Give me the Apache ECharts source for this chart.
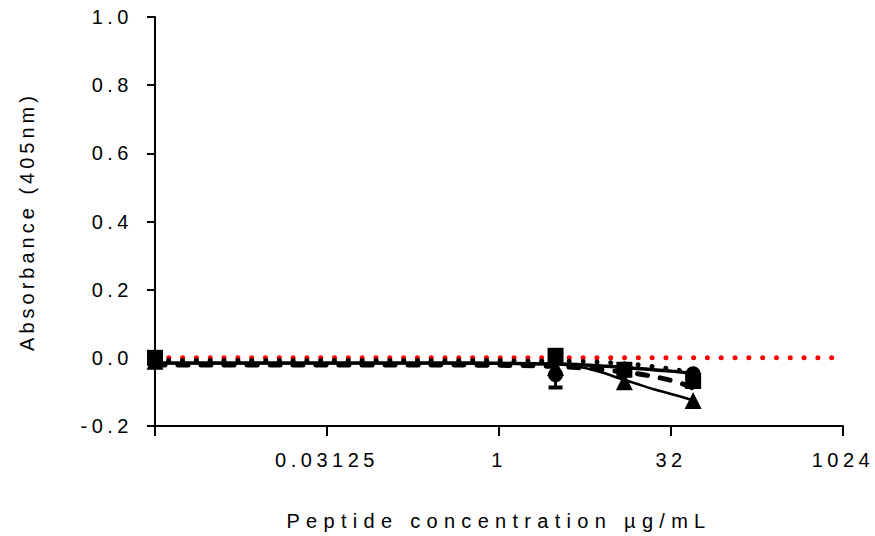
<!DOCTYPE html>
<html><head><meta charset="utf-8">
<script src="https://cdn.jsdelivr.net/npm/echarts@6/dist/echarts.min.js"></script>
<style>
html,body{margin:0;padding:0;background:#fff;}
#c{width:875px;height:536px;}
#c text{letter-spacing:4.5px;}
</style></head><body><div id="c"></div>
<script>
// ---- data ----
const markerConc = [0.0009765625, 3.125, 12.5, 50];
const circleVals = [-0.010, -0.050, -0.038, -0.047];
const squareVals = [0.000, 0.006, -0.035, -0.068];
const triangleVals = [-0.010, -0.028, -0.070, -0.125];
const circleErrLow = [null, -0.087, null, null];
const circleErrHigh = [null, -0.013, null, null];

const fitConc = [0.0009765625, 0.015625, 0.25, 1, 2, 2.83, 4, 5.66, 8, 11.3, 16, 22.6, 32, 45, 50];
const fitDotted = [-0.008, -0.008, -0.008, -0.008, -0.009, -0.009, -0.010, -0.011, -0.013, -0.016, -0.020, -0.026, -0.033, -0.041, -0.044];
const fitSolid = [-0.015, -0.015, -0.015, -0.016, -0.017, -0.018, -0.019, -0.021, -0.024, -0.027, -0.031, -0.035, -0.039, -0.044, -0.046];
const fitDashed = [-0.021, -0.021, -0.021, -0.022, -0.023, -0.025, -0.027, -0.030, -0.034, -0.040, -0.046, -0.055, -0.066, -0.082, -0.090];
const fitThin = [-0.016, -0.016, -0.016, -0.017, -0.018, -0.019, -0.021, -0.030, -0.043, -0.060, -0.076, -0.092, -0.106, -0.120, -0.125];

const baselineConc = [0.0009765625, 1024];
const baselineVals = [0, 0];

const xTickValues = [0.03125, 1, 32, 1024];
const xTickLabels = ['0.03125', '1', '32', '1024'];

// ---- build ----
const pairs = (xs, ys) => xs.map((x, i) => [x, ys[i]]);
const errData = markerConc.map((x, i) => [x, circleErrLow[i], circleErrHigh[i]]).filter(d => d[1] !== null);

const FONT = '"Liberation Sans", Arial, sans-serif';
const XNAME = 'Peptide concentration µg/mL';
const chart = echarts.init(document.getElementById('c'), null, {renderer: 'svg'});
chart.setOption({
  animation: false,
  backgroundColor: '#fff',
  grid: {left: 155, right: 32, top: 17, bottom: 108},
  xAxis: {
    type: 'log', logBase: 2, min: 0.0009765625, max: 1024, interval: 5,
    name: XNAME, nameLocation: 'middle', nameGap: 85,
    nameTextStyle: {fontFamily: FONT, fontSize: 20, color: '#000'},
    axisLine: {onZero: false, lineStyle: {color: '#000', width: 2}},
    axisTick: {length: 10, lineStyle: {color: '#000', width: 2}},
    axisLabel: {
      margin: 24, fontFamily: FONT, fontSize: 20, color: '#000',
      formatter: v => {
        for (let i = 0; i < xTickValues.length; i++) {
          if (Math.abs(Math.log2(v) - Math.log2(xTickValues[i])) < 1e-6) return xTickLabels[i];
        }
        return '';
      }
    },
    splitLine: {show: false}
  },
  yAxis: {
    type: 'value', min: -0.2, max: 1.0, interval: 0.2,
    name: 'Absorbance (405nm)', nameLocation: 'middle', nameGap: 118,
    nameTextStyle: {fontFamily: FONT, fontSize: 20, color: '#000'},
    axisLine: {show: true, onZero: false, lineStyle: {color: '#000', width: 2}},
    axisTick: {show: true, length: 8, lineStyle: {color: '#000', width: 2}},
    axisLabel: {margin: 22, fontFamily: FONT, fontSize: 20, color: '#000', formatter: v => v.toFixed(1)},
    splitLine: {show: false}
  },
  series: [
    {type: 'line', data: pairs(baselineConc, baselineVals), symbol: 'none', z: 1,
     lineStyle: {color: '#ff0000', width: 5, type: [0.01, 13.8], cap: 'round'}},
    {type: 'line', data: pairs(fitConc, fitDotted), symbol: 'none', smooth: 0.3, z: 2,
     lineStyle: {color: '#000', width: 5, type: [0.01, 13.8], cap: 'round'}},
    {type: 'line', data: pairs(fitConc, fitSolid), symbol: 'none', smooth: 0.3, z: 2,
     lineStyle: {color: '#000', width: 3.5, type: 'solid'}},
    {type: 'line', data: pairs(fitConc, fitDashed), symbol: 'none', smooth: 0.3, z: 2,
     lineStyle: {color: '#000', width: 5, type: [10, 13], cap: 'round'}},
    {type: 'line', data: pairs(fitConc, fitThin), symbol: 'none', smooth: 0.3, z: 2,
     lineStyle: {color: '#000', width: 2.5, type: 'solid'}},
    {type: 'custom', z: 3, data: errData,
     renderItem: (params, api) => {
       const lo = api.coord([api.value(0), api.value(1)]);
       const hi = api.coord([api.value(0), api.value(2)]);
       return {type: 'group', children: [
         {type: 'line', shape: {x1: lo[0], y1: lo[1], x2: hi[0], y2: hi[1]}, style: {stroke: '#000', lineWidth: 3}},
         {type: 'line', shape: {x1: lo[0] - 7, y1: lo[1], x2: lo[0] + 7, y2: lo[1]}, style: {stroke: '#000', lineWidth: 4}},
         {type: 'line', shape: {x1: hi[0] - 7, y1: hi[1], x2: hi[0] + 7, y2: hi[1]}, style: {stroke: '#000', lineWidth: 4}}
       ]};
     }},
    {type: 'scatter', data: pairs(markerConc, triangleVals), symbol: 'triangle', symbolSize: 17, z: 4,
     itemStyle: {color: '#000', opacity: 1}},
    {type: 'scatter', data: pairs(markerConc, circleVals), symbol: 'circle', symbolSize: 15, z: 4,
     itemStyle: {color: '#000', opacity: 1}},
    {type: 'scatter', data: pairs(markerConc, squareVals), symbol: 'rect', symbolSize: 16, z: 4,
     itemStyle: {color: '#000', opacity: 1}}
  ]
});
function spaceTitle() {
  document.querySelectorAll('#c text').forEach(t => {
    if (t.textContent === XNAME) t.style.letterSpacing = '6.3px';
    if (t.textContent === 'Absorbance (405nm)') t.style.letterSpacing = '4px';
  });
}
chart.on('finished', spaceTitle);
spaceTitle();
</script></body></html>
